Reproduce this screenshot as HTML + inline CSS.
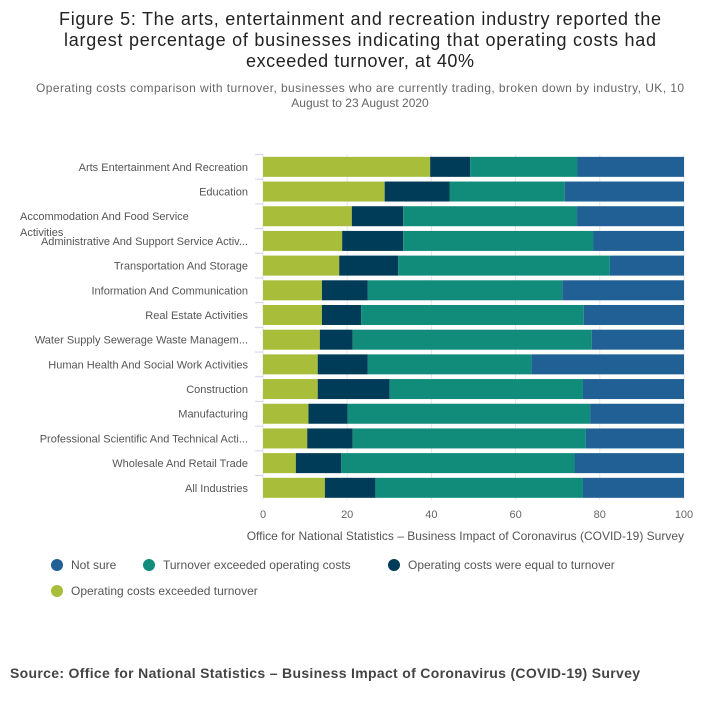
<!DOCTYPE html>
<html><head><meta charset="utf-8"><style>
body{margin:0;background:#fff;font-family:"Liberation Sans",sans-serif;}
.wrap{position:relative;width:720px;height:701px;overflow:hidden;}
</style></head><body>
<div class="wrap">
<svg width="720" height="701" xmlns="http://www.w3.org/2000/svg" font-family="Liberation Sans, sans-serif" id="svg">
<text x="360" y="25" text-anchor="middle" font-size="18" fill="#222" textLength="602">Figure 5: The arts, entertainment and recreation industry reported the</text>
<text x="360" y="46" text-anchor="middle" font-size="18" fill="#222" textLength="592">largest percentage of businesses indicating that operating costs had</text>
<text x="360" y="67" text-anchor="middle" font-size="18" fill="#222" textLength="228">exceeded turnover, at 40%</text>
<text x="360" y="92" text-anchor="middle" font-size="12" fill="#666" textLength="648">Operating costs comparison with turnover, businesses who are currently trading, broken down by industry, UK, 10</text>
<text x="360" y="107" text-anchor="middle" font-size="12" fill="#666">August to 23 August 2020</text>
<g id="grid"></g><g id="bars"></g><g id="labels"></g><g id="ticks"></g>
<text x="684" y="540" text-anchor="end" font-size="12" fill="#555">Office for National Statistics – Business Impact of Coronavirus (COVID-19) Survey</text>
<g font-size="12" fill="#555">
<circle cx="57" cy="565" r="6" fill="#206095"/><text x="71" y="569">Not sure</text>
<circle cx="149" cy="565" r="6" fill="#118c7b"/><text x="163" y="569">Turnover exceeded operating costs</text>
<circle cx="394" cy="565" r="6" fill="#003c57"/><text x="408" y="569">Operating costs were equal to turnover</text>
<circle cx="57" cy="591" r="6" fill="#a8bd3a"/><text x="71" y="595">Operating costs exceeded turnover</text>
</g>
<text x="10" y="678" font-size="14" font-weight="bold" fill="#444" textLength="630">Source: Office for National Statistics – Business Impact of Coronavirus (COVID-19) Survey</text>
</svg>
</div>
<script>
const categories=["Arts Entertainment And Recreation","Education","Accommodation And Food Service Activities","Administrative And Support Service Activ...","Transportation And Storage","Information And Communication","Real Estate Activities","Water Supply Sewerage Waste Managem...","Human Health And Social Work Activities","Construction","Manufacturing","Professional Scientific And Technical Acti...","Wholesale And Retail Trade","All Industries"];
const costsExceeded=[39.7,28.9,21.1,18.8,18.1,14.0,14.0,13.5,13.0,13.0,10.8,10.5,7.8,14.7];
const equal=[9.5,15.4,12.2,14.5,14.0,10.9,9.3,7.8,11.9,17.1,9.3,10.8,10.8,12.0];
const turnoverExceeded=[25.5,27.4,41.3,45.2,50.3,46.2,52.9,56.8,38.9,45.9,57.6,55.4,55.4,49.3];
const notSure=[25.3,28.3,25.4,21.5,17.6,28.9,23.8,21.9,36.2,24.0,22.3,23.3,26.0,24.0];
const xTicks=[0,20,40,60,80,100];
const NS="http://www.w3.org/2000/svg";
const x0=263,x1=684,yTop=154.5,step=24.69,bh=20;
const xs=v=>x0+(x1-x0)*v/100;
const yc=i=>yTop+step*i+step/2;
function mk(t,a,p){const e=document.createElementNS(NS,t);for(const k in a)e.setAttribute(k,a[k]);document.getElementById(p).appendChild(e);return e;}
xTicks.forEach(t=>{
 const l=mk('line',{x1:xs(t),x2:xs(t),y1:yTop,y2:yTop+step*categories.length,stroke:'#e2e6f0','stroke-width':1},'grid');
 
 
 const tx=mk('text',{x:xs(t),y:518,'text-anchor':'middle','font-size':11,fill:'#666'},'ticks');
 tx.textContent=t;
 
 
});
const series=[[costsExceeded,'#a8bd3a','costs-exceeded'],[equal,'#003c57','equal'],[turnoverExceeded,'#118c7b','turnover-exceeded'],[notSure,'#206095','not-sure']];
categories.forEach((c,i)=>{
 let acc=0;
 series.forEach(([arr,col,nm])=>{
  const r=mk('rect',{x:xs(acc),y:yc(i)-bh/2,width:xs(acc+arr[i])-xs(acc),height:bh,fill:col},'bars');
  
  
  acc+=arr[i];
 });
 const tk=mk('line',{x1:255,x2:263,y1:yTop+step*i,y2:yTop+step*i,stroke:'#ccd6eb'},'grid');
 
 
 if(i===2){
  const t1=mk('text',{x:20,y:yc(i)+4,'font-size':11,fill:'#555'},'labels');t1.textContent="Accommodation And Food Service";
  
  
  const t2=mk('text',{x:20,y:yc(i)+20,'font-size':11,fill:'#555'},'labels');t2.textContent="Activities";
  
  
 }else{
  const t=mk('text',{x:248,y:yc(i)+4,'text-anchor':'end','font-size':11,fill:'#555'},'labels');t.textContent=c;
  
  
 }
});
</script>
</body></html>
